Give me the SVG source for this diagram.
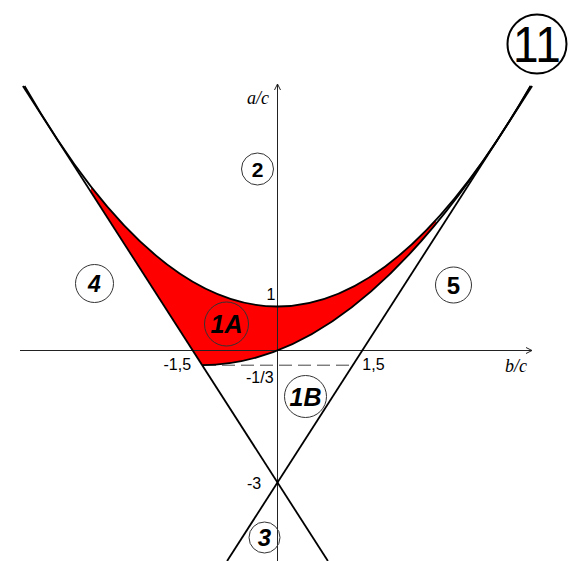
<svg xmlns="http://www.w3.org/2000/svg" width="572" height="561" viewBox="0 0 572 561">
<style>
.ax{stroke:#222;stroke-width:1;fill:none}
.cv{stroke:#000;stroke-width:1.8;fill:none;stroke-linejoin:round}
.ring{fill:none;stroke:#333;stroke-width:1}
.tick{font-family:"Liberation Sans",Arial,sans-serif;font-size:16px;fill:#000}
.var{font-family:"Liberation Serif","Times New Roman",serif;font-style:italic;font-size:18px;fill:#000}
.lbl{font-family:"Liberation Sans",Arial,sans-serif;fill:#000;text-anchor:middle}
</style>
<defs>
<marker id="arr" viewBox="0 0 8 8" refX="7" refY="4" markerWidth="8" markerHeight="8" markerUnits="userSpaceOnUse" orient="auto">
<path d="M1,1 L7,4 L1,7" fill="none" stroke="#222" stroke-width="1"/>
</marker>
<clipPath id="redclip"><rect x="91" y="0" width="345" height="561"/></clipPath>
</defs>
<rect width="572" height="561" fill="#fff"/>
<g id="region-1A-fill">
<path d="M51.5,130.5 L202.17,365.17 Q352.83,365.17 503.5,130.5 Q277.5,482.5 51.5,130.5 Z" fill="#ff0000" clip-path="url(#redclip)"/>
</g>
<g id="connectors">
<line class="ax" x1="20" y1="350.5" x2="532" y2="350.5" marker-end="url(#arr)"/>
<line class="ax" x1="277.5" y1="561" x2="277.5" y2="84" marker-end="url(#arr)"/>
<line x1="203" y1="365.2" x2="353" y2="365.2" stroke="#444" stroke-width="1" stroke-dasharray="13,6"/>
<path class="cv" d="M24.55,86 Q277.5,527 530.45,86"/>
<path class="cv" d="M202.17,365.17 Q366.5,365.17 530.85,86"/>
<line class="cv" x1="22.9" y1="86" x2="327.9" y2="561"/>
<line class="cv" x1="532.1" y1="86" x2="227.1" y2="561"/>
</g>
<g id="axis-labels">
<text class="var" x="247" y="104">a/c</text>
<text class="var" x="505" y="372">b/c</text>
<text class="tick" x="266.5" y="300">1</text>
<text class="tick" x="163.5" y="369.5">-1,5</text>
<text class="tick" x="246" y="382.5">-1/3</text>
<text class="tick" x="362.3" y="369.5">1,5</text>
<text class="tick" x="247" y="489">-3</text>
</g>
<g id="node-2"><circle class="ring" cx="257.5" cy="169" r="16"/><text class="lbl" x="257.5" y="176.5" font-size="21" font-weight="bold">2</text></g>
<g id="node-4"><circle class="ring" cx="94.5" cy="283.5" r="19"/><text class="lbl" x="94.5" y="291.5" font-size="23" font-weight="bold" font-style="italic">4</text></g>
<g id="node-1A"><circle class="ring" cx="226.5" cy="324" r="22"/><text class="lbl" x="226.5" y="333" font-size="25" font-weight="bold" font-style="italic">1A</text></g>
<g id="node-5"><circle class="ring" cx="453.5" cy="285" r="18"/><text class="lbl" x="453.5" y="293.5" font-size="24" font-weight="bold">5</text></g>
<g id="node-1B"><circle class="ring" cx="305.5" cy="396.5" r="21"/><text class="lbl" x="305.5" y="405.5" font-size="25" font-weight="bold" font-style="italic">1B</text></g>
<g id="node-3"><circle class="ring" cx="264.5" cy="537.5" r="15.5"/><text class="lbl" x="264.5" y="546" font-size="24" font-weight="bold" font-style="italic">3</text></g>
<g id="node-11"><circle cx="537" cy="44" r="29.5" fill="none" stroke="#000" stroke-width="2"/><text class="lbl" transform="translate(537,62) scale(0.92,1)" x="0" y="0" font-size="50">11</text></g>
</svg>
